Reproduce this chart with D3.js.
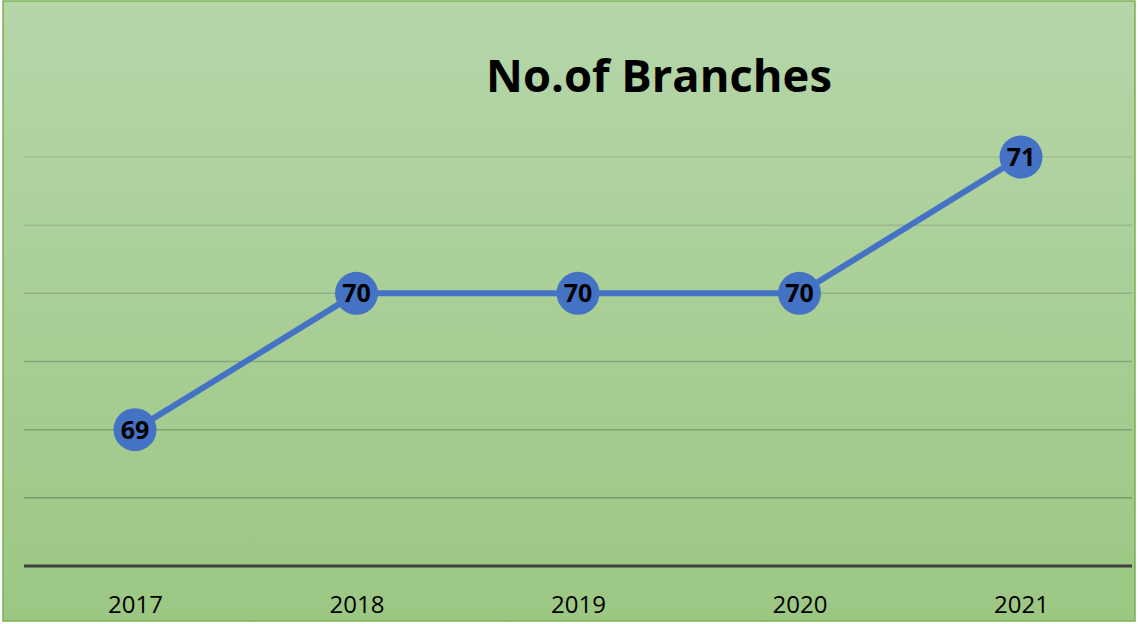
<!DOCTYPE html>
<html><head><meta charset="utf-8">
<script src="https://cdn.jsdelivr.net/npm/d3@7"></script>
<style>html,body{margin:0;padding:0;background:#fff;}svg{display:block;}</style>
</head><body>
<script>
const years = ["2017","2018","2019","2020","2021"];
const branches = [69, 70, 70, 70, 71];
const yTicks = [68, 68.5, 69, 69.5, 70, 70.5, 71];
const title = "No.of Branches";

const W = 1138, H = 624;
const svg = d3.select("body").append("svg").attr("width", W).attr("height", H);
const defs = svg.append("defs");
const bg = defs.append("linearGradient").attr("id","bg").attr("x1",0).attr("y1",0).attr("x2",0).attr("y2",1);
bg.append("stop").attr("offset","0%").attr("stop-color","#b6d6a9");
bg.append("stop").attr("offset","100%").attr("stop-color","#9cc783");
const gg = defs.append("linearGradient").attr("id","gg").attr("gradientUnits","userSpaceOnUse")
  .attr("x1",0).attr("y1",150).attr("x2",0).attr("y2",500);
gg.append("stop").attr("offset","0%").attr("stop-color","#a3bf96");
gg.append("stop").attr("offset","100%").attr("stop-color","#789868");

svg.append("rect").attr("x",3).attr("y",1).attr("width",1132).attr("height",620)
  .attr("fill","url(#bg)").attr("stroke","#79b151").attr("stroke-width",1.5);

const x = d3.scalePoint().domain(years).range([135, 1021]);
const y = d3.scaleLinear().domain([68, 71]).range([566, 157]);

svg.append("g").selectAll("line").data(yTicks.filter(d => d > 68)).join("line")
  .attr("x1", 24).attr("x2", 1132).attr("y1", d => y(d)).attr("y2", d => y(d))
  .attr("stroke","url(#gg)").attr("stroke-width",1.5);

const xAxis = svg.append("g").attr("transform", `translate(0,${y(68)})`)
  .call(d3.axisBottom(x).tickSize(0).tickPadding(0));
xAxis.select(".domain").remove();
xAxis.append("line").attr("x1",24).attr("x2",1132).attr("stroke","#404040").attr("stroke-width",3);
xAxis.selectAll(".tick text").attr("font-family","'Open Sans', sans-serif").attr("font-size",24)
  .attr("fill","#000").attr("dy",null).attr("y",47);

const line = d3.line().x((d,i) => x(years[i])).y(d => y(d));
svg.append("path").datum(branches).attr("d", line).attr("fill","none")
  .attr("stroke","#4472c4").attr("stroke-width",6);

const pts = svg.append("g").selectAll("g").data(branches).join("g")
  .attr("transform",(d,i) => `translate(${x(years[i])},${y(d)})`);
pts.append("circle").attr("r",21.5).attr("fill","#4472c4");
pts.append("text").text(d => d).attr("text-anchor","middle").attr("dy","0.36em")
  .attr("font-family","'Open Sans', sans-serif").attr("font-weight","bold").attr("font-size",25).attr("fill","#000");

const t = svg.append("text").attr("x",659).attr("y",92).attr("text-anchor","middle")
  .attr("font-family","'Open Sans', sans-serif").attr("font-weight","bold").attr("font-size",42)
  .attr("fill","#000").text(title);
const len = t.node().getComputedTextLength();
t.attr("font-size", 42 * 346 / len);
</script>
</body></html>
